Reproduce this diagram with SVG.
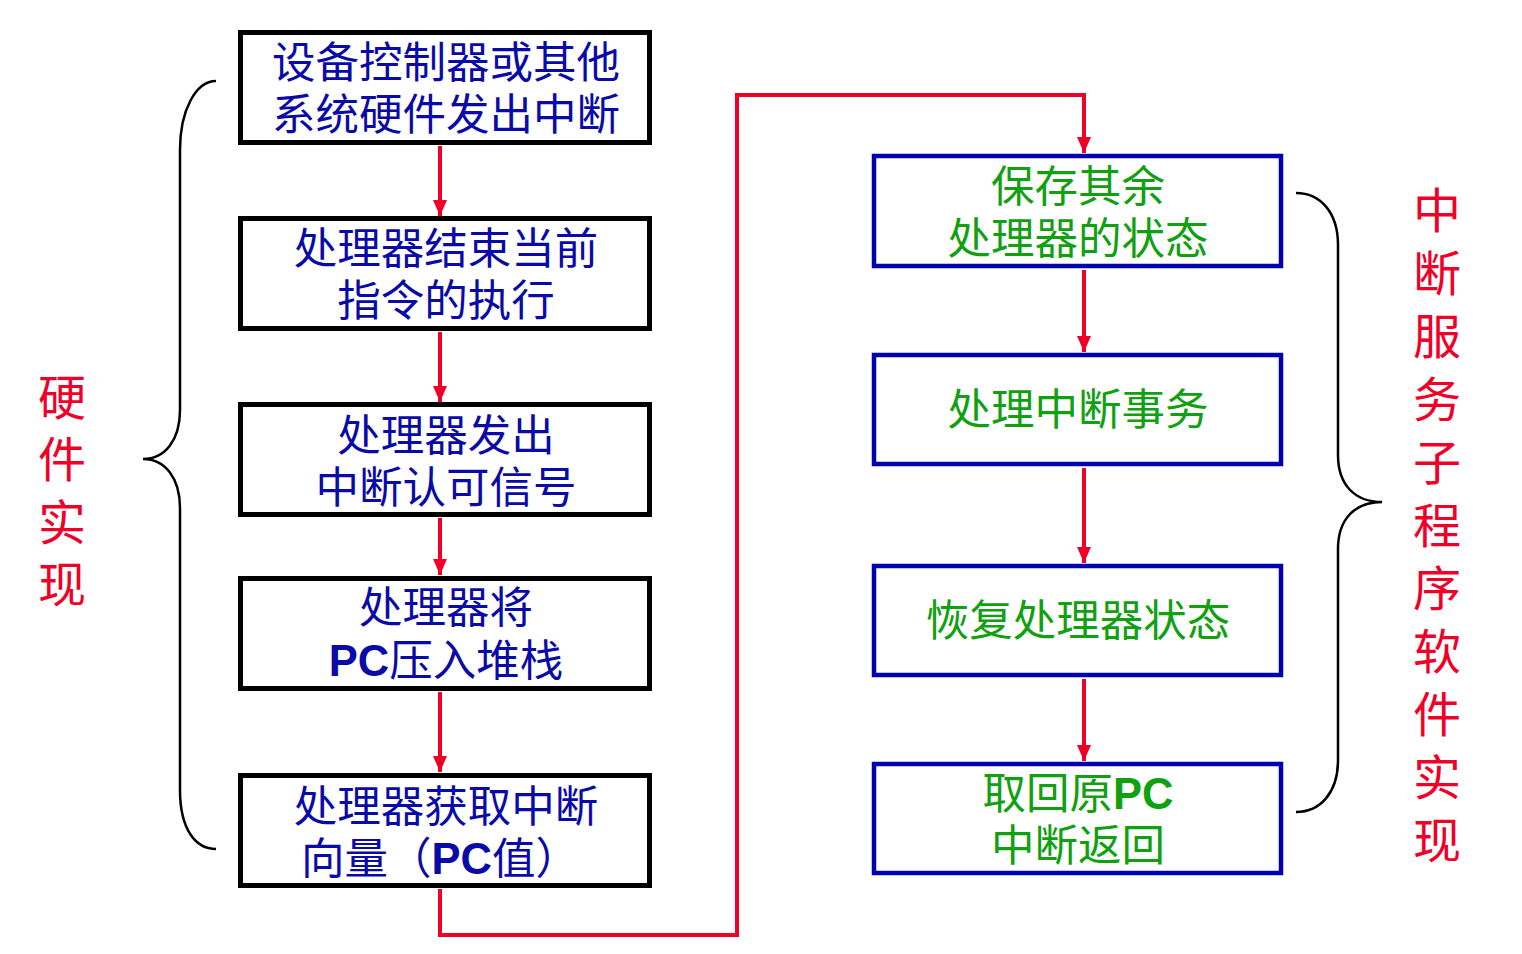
<svg xmlns="http://www.w3.org/2000/svg" width="1522" height="954" viewBox="0 0 1522 954">
<style>
.lbox{fill:#fff;stroke:#000;stroke-width:5}
.rbox{fill:#fff;stroke:#0000B0;stroke-width:4.5}
.lt{font-family:"Noto Sans CJK SC","Noto Sans",sans-serif;font-size:43.5px;fill:#0A0AA8;text-anchor:middle}
.rt{font-family:"Noto Sans CJK SC","Noto Sans",sans-serif;font-size:43.5px;fill:#10A010;text-anchor:middle}
.pc{font-family:"Liberation Sans",Arial,sans-serif;font-weight:bold}
.side{font-family:"Noto Sans CJK SC",sans-serif;font-size:48px;fill:#F00028;text-anchor:middle}
.conn{fill:none;stroke:#F00028;stroke-width:4}
.brace{fill:none;stroke:#000;stroke-width:2.5}
</style>
<defs>
<marker id="ah" markerUnits="userSpaceOnUse" markerWidth="16" markerHeight="16" viewBox="0 0 16 16" refX="16" refY="8" orient="auto">
<path d="M0,1 L16,8 L0,15 Z" fill="#F00028"/>
</marker>
</defs>
<g id="connectors">
<path class="conn" d="M440,146 V216" marker-end="url(#ah)"/>
<path class="conn" d="M440,332 V402" marker-end="url(#ah)"/>
<path class="conn" d="M440,518 V575" marker-end="url(#ah)"/>
<path class="conn" d="M440,692 V772" marker-end="url(#ah)"/>
<path class="conn" d="M440,889 V935 H737 V95 H1084 V153" marker-end="url(#ah)"/>
<path class="conn" d="M1084,270 V352" marker-end="url(#ah)"/>
<path class="conn" d="M1084,468 V563" marker-end="url(#ah)"/>
<path class="conn" d="M1084,679 V761" marker-end="url(#ah)"/>
</g>
<g id="n1"><rect class="lbox" x="240.5" y="32.5" width="409" height="110"/>
<text class="lt" x="446" y="78">设备控制器或其他</text><text class="lt" x="446" y="130">系统硬件发出中断</text></g>
<g id="n2"><rect class="lbox" x="240.5" y="218.5" width="409" height="110"/>
<text class="lt" x="446" y="264">处理器结束当前</text><text class="lt" x="446" y="316">指令的执行</text></g>
<g id="n3"><rect class="lbox" x="240.5" y="404.5" width="409" height="110"/>
<text class="lt" x="446" y="451">处理器发出</text><text class="lt" x="446" y="503">中断认可信号</text></g>
<g id="n4"><rect class="lbox" x="240.5" y="578.5" width="409" height="110"/>
<text class="lt" x="446" y="623">处理器将</text><text class="lt" x="446" y="676"><tspan class="pc">PC</tspan>压入堆栈</text></g>
<g id="n5"><rect class="lbox" x="240.5" y="775.5" width="409" height="110"/>
<text class="lt" x="446" y="822">处理器获取中断</text><text class="lt" x="440" y="874">向量（<tspan class="pc">PC</tspan>值）</text></g>
<g id="r1"><rect class="rbox" x="874" y="156" width="407" height="110"/>
<text class="rt" x="1078" y="202">保存其余</text><text class="rt" x="1078" y="254">处理器的状态</text></g>
<g id="r2"><rect class="rbox" x="874" y="355" width="407" height="109"/>
<text class="rt" x="1078" y="425">处理中断事务</text></g>
<g id="r3"><rect class="rbox" x="874" y="566" width="407" height="109"/>
<text class="rt" x="1078" y="636">恢复处理器状态</text></g>
<g id="r4"><rect class="rbox" x="874" y="764" width="407" height="109"/>
<text class="rt" x="1078" y="809">取回原<tspan class="pc">PC</tspan></text><text class="rt" x="1078" y="861">中断返回</text></g>
<g id="braces">
<path class="brace" d="M216,81 C196,81 180,110 180,150 V410 C180,440 165,459 143,459 C165,459 180,478 180,508 V790 C180,830 196,849 216,849"/>
<path class="brace" d="M1296,193 C1320,193 1338,212 1338,245 V455 C1338,485 1355,502 1382,502 C1355,502 1338,519 1338,549 V760 C1338,793 1320,812 1296,812"/>
</g>
<g id="label-hw">
<text class="side" x="62" y="415">硬</text><text class="side" x="62" y="477">件</text><text class="side" x="62" y="540">实</text><text class="side" x="62" y="602">现</text>
</g>
<g id="label-sw">
<text class="side" x="1437" y="228">中</text><text class="side" x="1437" y="291">断</text><text class="side" x="1437" y="354">服</text><text class="side" x="1437" y="417">务</text><text class="side" x="1437" y="480">子</text><text class="side" x="1437" y="543">程</text><text class="side" x="1437" y="606">序</text><text class="side" x="1437" y="669">软</text><text class="side" x="1437" y="732">件</text><text class="side" x="1437" y="795">实</text><text class="side" x="1437" y="858">现</text>
</g>
</svg>
